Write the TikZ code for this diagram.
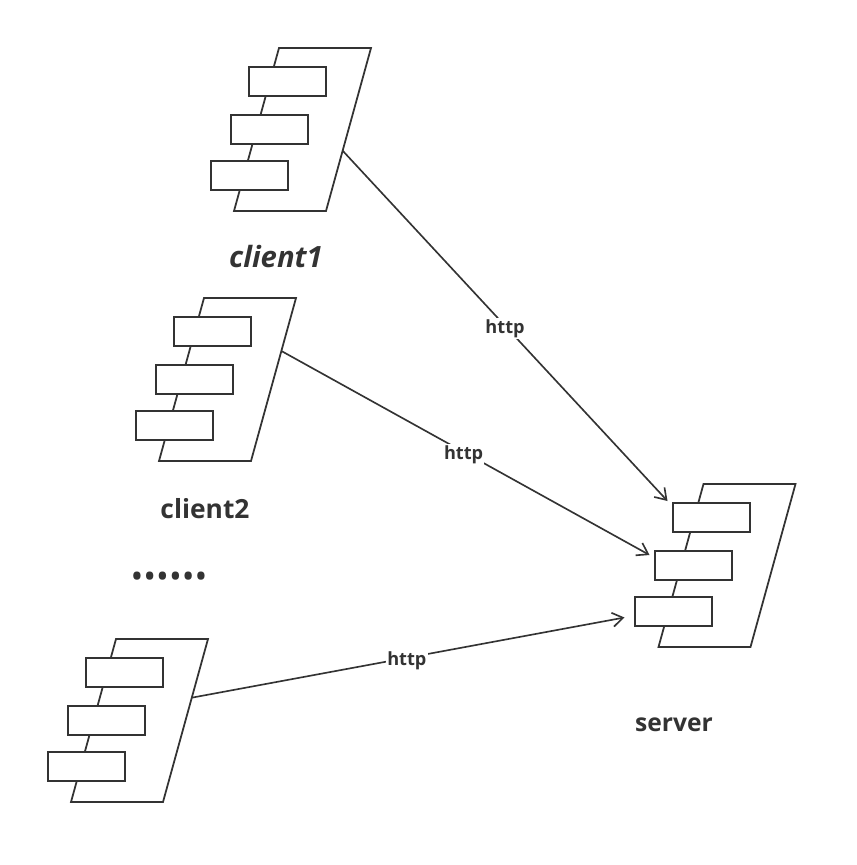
\documentclass[tikz,border=0pt]{standalone}
\usepackage{fontspec}
\setmainfont{Open Sans}
\usetikzlibrary{arrows.meta, calc}
\definecolor{ink}{RGB}{51,51,51}
\tikzset{
  frame/.style={draw=ink, line width=1.5pt, line join=miter, fill=white},
  slot/.style={draw=ink, line width=1.7pt, fill=white, anchor=north west, inner sep=0pt, outer sep=0pt, minimum width=2.31cm, minimum height=0.87cm},
  link/.style={draw=ink, line width=1.4pt, -{Straight Barb[length=9pt,width=12pt,line width=1.4pt]}},
  proto/.style={fill=white, text=ink, font=\bfseries\fontsize{15.5}{18}\selectfont, inner sep=1pt, yshift=-2.2pt},
  title/.style={text=ink, font=\bfseries\fontsize{22.5}{26}\selectfont}
}
\begin{document}
\begin{tikzpicture}[x=0.03cm,y=-0.03cm]
    \useasboundingbox (0,0) rectangle (856,865);
    %componenti
    \foreach \name/\xx/\yy/\dd/\pp in {clientA/279/48/0/0.63, clientB/204/298/0/0.325, clientC/116/639/0/0.36, server/703.5/484/-1/0.5} {
      \draw[frame] (\xx,\yy) --++ (92,0) --++ (-45,163) coordinate[pos=\pp] (\name out) --++ (-92,0) -- cycle;
      \node[slot] (\name1) at (\xx-30+\dd,\yy+19) {};
      \node[slot] (\name2) at (\xx-48+\dd,\yy+67) {};
      \node[slot] (\name3) at (\xx-68+\dd,\yy+113) {};
    }
    %punte delle frecce
    \coordinate (tip1) at ($(server1.north west)+(-5,-2)$);
    \coordinate (tip2) at ($(server2.north west)+(-5,4)$);
    \coordinate (tip3) at ($(server3.west)+(-10,6)$);
    %collegamenti
    \draw[link] (clientAout) -- (tip1) node[proto, pos=0.5] (httpA) {http};
    \draw[link] (clientBout) -- (tip2) node[proto, pos=0.495] (httpB) {http};
    \draw[link] (clientCout) -- (tip3) node[proto, pos=0.497] (httpC) {http};
    %etichette
    \node[title, font=\bfseries\itshape\fontsize{25}{28}\selectfont] (nameA) at (276,257) {client1};
    \node[title] (nameB) at (205,509) {client2};
    \node[title, font=\bfseries\fontsize{21}{24}\selectfont] (nameS) at (674,724.5) {server};
    \node[text=ink, font=\fontsize{29}{32}\selectfont] (more) at (169,580) {••••••};
\end{tikzpicture}
\end{document}
